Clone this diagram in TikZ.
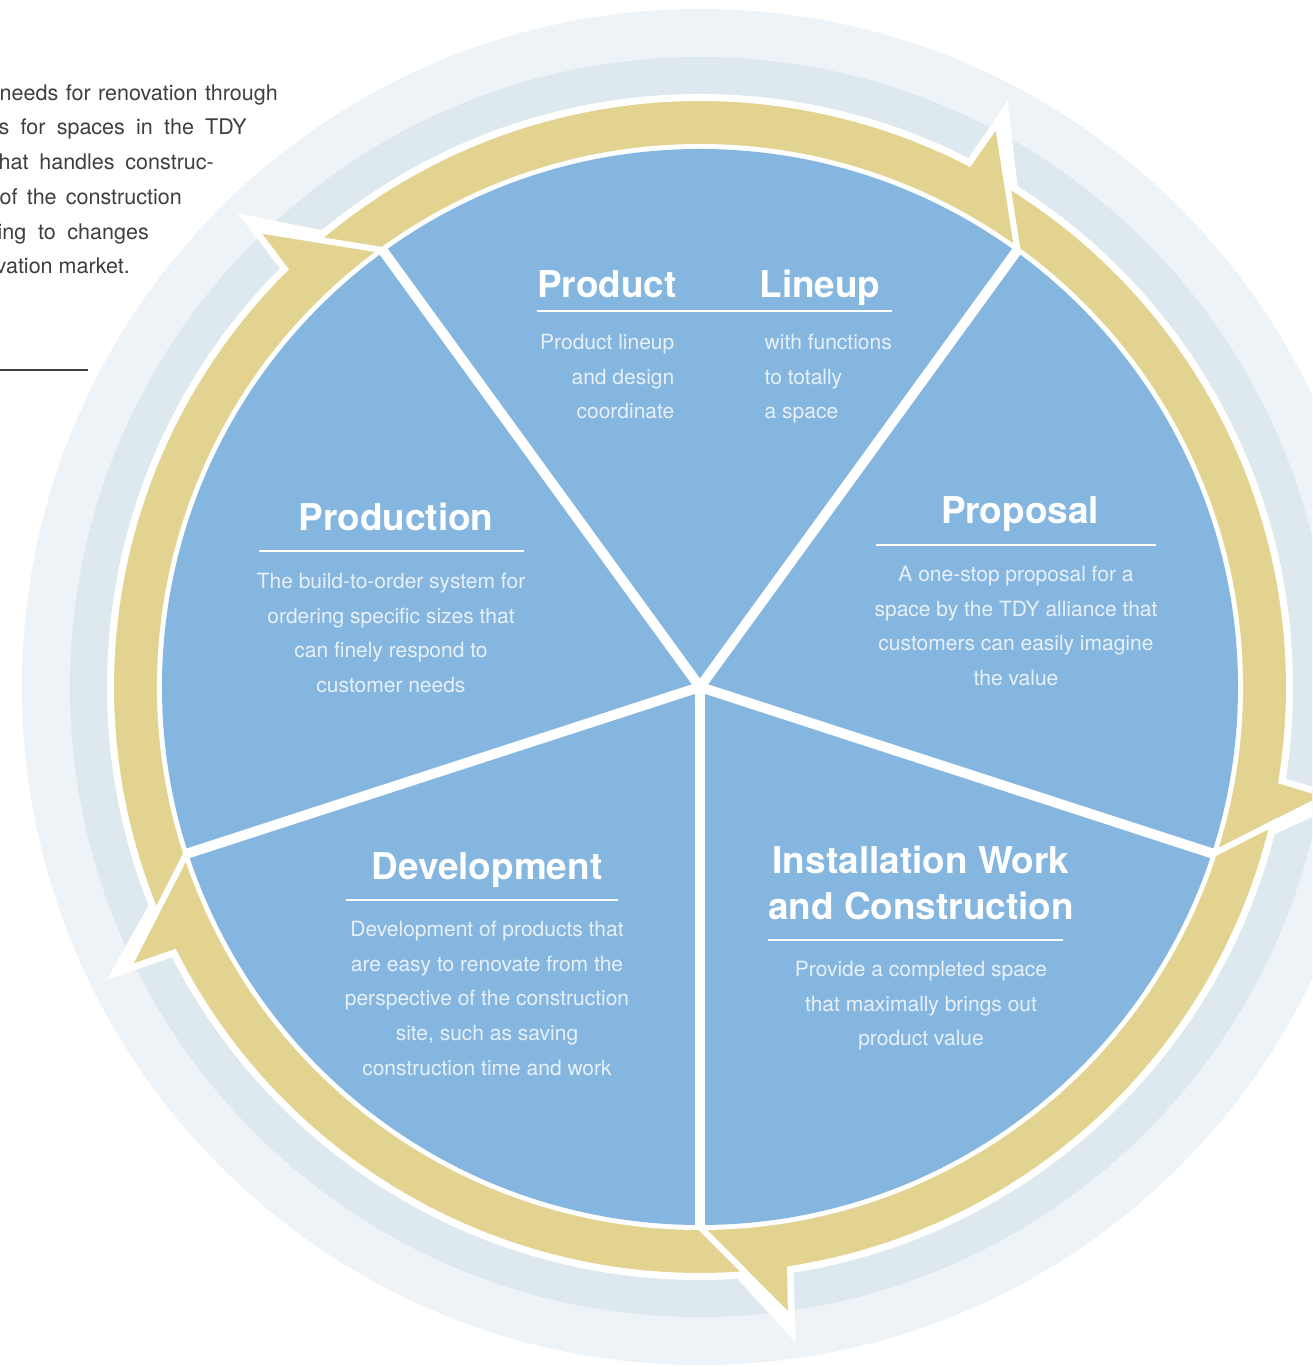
\documentclass[tikz,border=0pt]{standalone}
\usepackage{fontspec}
\setmainfont{TeX Gyre Heros}
\usepackage{tikz}
\usetikzlibrary{positioning}
\usepackage{xcolor}
\definecolor{SegBlue}{RGB}{132,182,224}
\definecolor{BandGold}{RGB}{226,212,144}
\definecolor{RingDark}{RGB}{222,232,239}
\definecolor{RingLight}{RGB}{238,243,247}
\definecolor{BodyText}{RGB}{232,240,248}
\definecolor{IntroGrey}{RGB}{62,62,62}

\begin{document}
\begin{tikzpicture}[
  x=0.01cm,y=0.01cm,
  ttl/.style={font=\bfseries\fontsize{10.5}{12.8}\selectfont,text=white,
              inner sep=0pt,anchor=base,align=center},
  txt/.style={font=\fontsize{5.97}{9.87}\selectfont,text=BodyText,
              inner sep=0pt,anchor=base},
  intro/.style={font=\fontsize{6.12}{9.84}\selectfont,text=IntroGrey,
                inner sep=0pt,anchor=base west},
  band/.style={fill=BandGold,draw=white,line width=1.7pt,line join=miter},
  rulew/.style={draw=white,line width=0.45pt},
]
\useasboundingbox (-700,-680) rectangle (612,687);
\clip (-700,-680) rectangle (612,687);
\fill[RingLight] (0,0) circle[radius=678];
\fill[RingDark] (0,0) circle[radius=630];
\fill[white] (0,0) circle[radius=593];
\foreach \e in {54,126,198,270,342}
  \fill[white] ({\e+9.2}:585) -- ({\e+8.3}:662) -- ({\e-0.6}:545) -- cycle;
\foreach \s [evaluate=\s as \e using \s-72] in {54,126,198,270,342}
  \path[band] ({\s}:540) -- ({\s+4.6}:589)
    arc[start angle=\s+4.6,end angle=\e+8.8,radius=589]
    -- ({\e+8.2}:638) -- ({\e}:540)
    arc[start angle=\e,end angle=\s,radius=540] -- cycle;
\fill[SegBlue] (0,0) circle[radius=538];
\coordinate (hub) at (0,0);
\foreach \a in {54,126,198,270,342}
  \draw[white,line width=2.85pt] (hub) -- (\a:541);

\node[ttl] (prodTtl) at (-93,389) {Product};
\node[ttl] (lineupTtl) at (120,389) {Lineup};
\draw[rulew] (-163,376) -- (192,376);
\node[txt,align=right,anchor=base east] (lineupL) at (-25,268.1)
  {Product lineup\\and design\\coordinate};
\node[txt,align=left,anchor=base west] (lineupR) at (64,268.1)
  {with functions\\to totally\\a space};

\node[ttl] (prodnTtl) at (-304,156) {Production};
\draw[rulew] (-441,136) -- (-176,136);
\node[txt,align=center] (prodnTxt) at (-309,-5.6)
  {The build-to-order system for\\ordering specific sizes that\\can finely respond to\\customer needs};

\node[ttl] (propTtl) at (320,163) {Proposal};
\draw[rulew] (176,142) -- (456,142);
\node[txt,align=center] (propTxt) at (316,1.4)
  {A one-stop proposal for a\\space by the TDY alliance that\\customers can easily imagine\\the value};

\node[ttl] (devTtl) at (-213,-193) {Development};
\draw[rulew] (-354,-213) -- (-82,-213);
\node[txt,align=center] (devTxt) at (-213,-388.3)
  {Development of products that\\are easy to renovate from the\\perspective of the construction\\site, such as saving\\construction time and work};

\node[ttl] (instTtl) at (221,-232) {Installation Work\\and Construction};
\draw[rulew] (68,-253) -- (363,-253);
\node[txt,align=center] (instTxt) at (221,-358.9)
  {Provide a completed space\\that maximally brings out\\product value};

\node[intro] (intro1) at (-701,586.5) {\makebox[2.78cm][s]{needs for renovation through}};
\node[intro] (intro2) at (-702,552) {\makebox[2.48cm][s]{s for spaces in the TDY}};
\node[intro] (intro3) at (-702,517.5) {\makebox[2.15cm][s]{hat handles construc-}};
\node[intro] (intro4) at (-701,482.5) {\makebox[1.82cm][s]{of the construction}};
\node[intro] (intro5) at (-703,447.5) {\makebox[1.51cm][s]{ing to changes}};
\node[intro] (intro6) at (-705,413.5) {vation market.};
\draw[IntroGrey,line width=0.45pt] (-700,317) -- (-612,317);
\end{tikzpicture}
\end{document}
